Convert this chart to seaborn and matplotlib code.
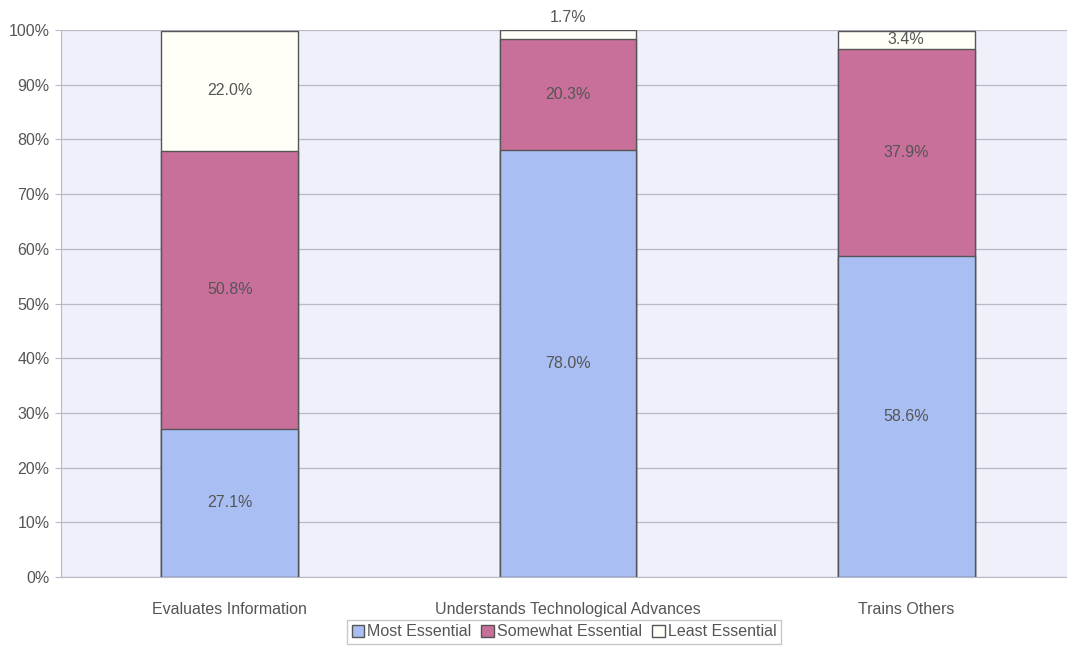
import matplotlib.pyplot as plt
import numpy as np
import pandas as pd
import seaborn as sns
from matplotlib.patches import Patch

categories = ["Evaluates Information", "Understands Technological Advances", "Trains Others"]
most_essential = [27.1, 78.0, 58.6]
somewhat_essential = [50.8, 20.3, 37.9]
least_essential = [22.0, 1.7, 3.4]

series_names = ["Most Essential", "Somewhat Essential", "Least Essential"]
colors = ["#A9BEF2", "#C8709A", "#FFFFF7"]
text_color = "#555555"
edge_color = "#555555"
grid_color = "#B8B8C8"

sns.set_style("whitegrid")
plt.rcParams["font.family"] = ["Liberation Sans", "DejaVu Sans"]

df = pd.DataFrame(
    {
        "category": categories,
        "most": most_essential,
        "somewhat": somewhat_essential,
        "least": least_essential,
    }
)
df["cum1"] = df["most"]
df["cum2"] = df["most"] + df["somewhat"]
df["cum3"] = df["cum2"] + df["least"]

fig = plt.figure(figsize=(10.67, 6.52), dpi=100)
ax = fig.add_axes([0.057, 0.115, 0.943, 0.839])
ax.set_facecolor("#F0F0FA")

# stacked bars drawn as overlapping cumulative totals
for col, color in zip(["cum3", "cum2", "cum1"], colors[::-1]):
    sns.barplot(
        data=df, x="category", y=col, color=color, width=0.405,
        edgecolor=edge_color, linewidth=1.0, saturation=1, ax=ax, zorder=3,
    )

fs = 11.5
# segment labels
for i, row in df.iterrows():
    ax.text(i, row["most"] / 2, f"{row['most']:.1f}%", ha="center", va="center",
            fontsize=fs, color=text_color, zorder=5)
    ax.text(i, row["cum1"] + row["somewhat"] / 2, f"{row['somewhat']:.1f}%",
            ha="center", va="center", fontsize=fs, color=text_color, zorder=5)
    if row["least"] < 2.5:
        ax.text(i, row["cum3"] + 1.0, f"{row['least']:.1f}%", ha="center",
                va="bottom", fontsize=fs, color=text_color, zorder=5, clip_on=False)
    else:
        ax.text(i, row["cum2"] + row["least"] / 2, f"{row['least']:.1f}%",
                ha="center", va="center", fontsize=fs, color=text_color, zorder=5)

ax.set_xlim(-0.5, 2.476)
ax.set_ylim(0, 100)
ax.set_yticks(np.arange(0, 101, 10))
ax.set_yticklabels([f"{v}%" for v in range(0, 101, 10)])
ax.set_xlabel("")
ax.set_ylabel("")
ax.grid(axis="y", color=grid_color, linewidth=0.9)
ax.grid(axis="x", visible=False)
ax.set_axisbelow(True)
for side in ["top", "right"]:
    ax.spines[side].set_visible(False)
ax.spines["left"].set_color(grid_color)
ax.spines["bottom"].set_color(grid_color)
ax.tick_params(axis="y", length=4, color=grid_color, labelsize=fs,
               labelcolor=text_color, pad=4, left=True)
ax.tick_params(axis="x", length=0, labelsize=fs, labelcolor=text_color, pad=18)

handles = [Patch(facecolor=c, edgecolor=edge_color, linewidth=1.0) for c in colors]
fig.legend(
    handles, series_names, loc="center", bbox_to_anchor=(564 / 1067, 1 - 632 / 652),
    ncol=3, frameon=True, fancybox=False, fontsize=fs, handlelength=0.8,
    handleheight=0.8, handletextpad=0.2, columnspacing=0.6, borderpad=0.3,
    labelcolor=text_color, edgecolor="#BBBBBB",
)

fig.savefig("out.png", dpi=100)
